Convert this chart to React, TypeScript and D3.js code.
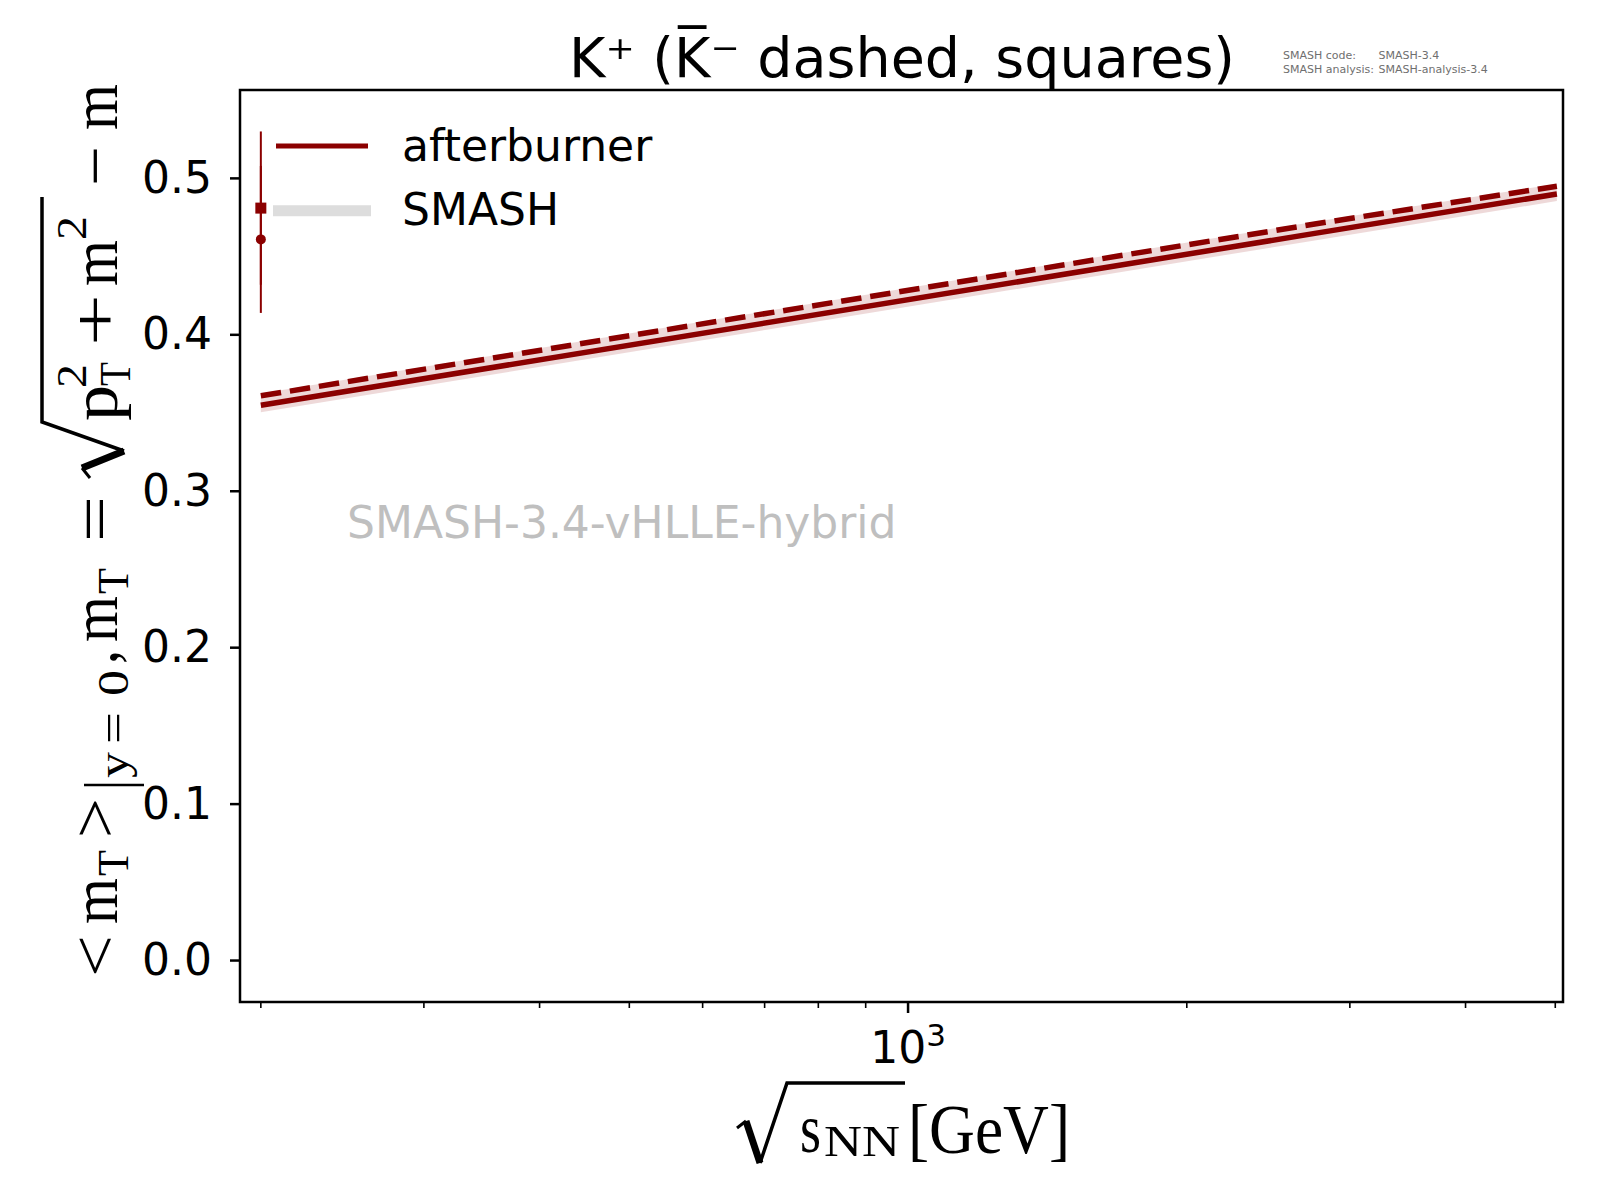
import React from 'react';
import * as d3 from 'd3';

// ---------- data ----------
const energies = [200, 2760, 5020];
const kPlusMT = [0.355, 0.465, 0.49];
const kMinusMT = [0.361, 0.471, 0.495];
const kPlusBandLow = [0.3505, 0.4605, 0.4855];
const kPlusBandHigh = [0.3565, 0.4665, 0.4915];
const kMinusBandLow = [0.3565, 0.4665, 0.4905];
const kMinusBandHigh = [0.3625, 0.4725, 0.4965];

const expEnergies = [200];
const expKPlus = [0.461];
const expKPlusErr = [0.047];
const expKMinus = [0.481];
const expKMinusErr = [0.049];

const yTicks = [0, 0.1, 0.2, 0.3, 0.4, 0.5];
const xMajorTicks = [1000];
const xMinorTicks = [200, 300, 400, 500, 600, 700, 800, 900, 2000, 3000, 4000, 5000];
const legendLabels = ['afterburner', 'SMASH'];
const titleText = 'K\u207A (K\u0305\u207B dashed, squares)';
const watermarkText = 'SMASH-3.4-vHLLE-hybrid';
const infoKeys = ['SMASH code:', 'SMASH analysis:'];
const infoValues = ['SMASH-3.4', 'SMASH-analysis-3.4'];

// ---------- layout ----------
const W = 1600;
const H = 1200;
const L = 240;
const R = 1563;
const T = 90;
const B = 1002;
const RED = '#8b0000';
const SANS = "'DejaVu Sans', sans-serif";
const SERIF = "'Liberation Serif', 'DejaVu Serif', serif";

const x = d3.scaleLog().domain([189.9, 5097]).range([L, R]);
const y = d3.scaleLinear().domain([-0.0265, 0.5565]).range([B, T]);

const zip = (a: number[], b: number[]) => a.map((v, i) => [v, b[i]] as [number, number]);

const line = d3
  .line<[number, number]>()
  .x((d) => x(d[0]))
  .y((d) => y(d[1]));

const area = d3
  .area<[number, number, number]>()
  .x((d) => x(d[0]))
  .y0((d) => y(d[1]))
  .y1((d) => y(d[2]));

const bandPts = (lo: number[], hi: number[]) =>
  energies.map((e, i) => [e, lo[i], hi[i]] as [number, number, number]);

// y-label pieces (rotated): text, start y (bottom), length, font size, baseline x
const yLabelPieces: [string, number, number, number, number][] = [
  ['<', 977, 42, 66, 117],
  ['m', 924, 46, 66, 117],
  ['T', 876, 26, 44, 128],
  ['>', 838, 40, 66, 117],
  ['|', 790, 10, 66, 130],
  ['y', 778, 26, 44, 128],
  ['=', 744, 32, 44, 128],
  ['0', 696, 26, 44, 128],
  [',', 664, 14, 66, 117],
  ['m', 642, 46, 66, 117],
  ['T', 594, 26, 44, 128],
  ['=', 542, 46, 66, 117],
  ['p', 421, 36, 66, 117],
  ['T', 386, 24, 44, 130],
  ['2', 388, 24, 42, 86],
  ['+', 346, 52, 66, 117],
  ['m', 286, 46, 66, 117],
  ['2', 240, 24, 42, 86],
  ['\u2212', 186, 40, 66, 117],
  ['m', 130, 46, 66, 117],
];

export default function App() {
  return (
    <svg
      width={W}
      height={H}
      viewBox={`0 0 ${W} ${H}`}
      style={{ position: 'absolute', left: 0, top: 0, display: 'block', background: '#fff' }}
    >
      <rect x={0} y={0} width={W} height={H} fill="#fff" />

      {/* title */}
      <text x={902} y={77} textAnchor="middle" fontFamily={SANS} fontSize={55.5} fill="#000">
        {titleText}
      </text>

      {/* info text */}
      {infoKeys.map((k, i) => (
        <text key={k} y={59.3 + i * 13.4} fontFamily={SANS} fontSize={11} fill="#6f6f6f">
          <tspan x={1283}>{k}</tspan>
          <tspan x={1378.5}>{infoValues[i]}</tspan>
        </text>
      ))}

      {/* watermark */}
      <text x={347} y={538} fontFamily={SANS} fontSize={44} fill="#bfbfbf">
        {watermarkText}
      </text>

      {/* bands */}
      <path d={area(bandPts(kPlusBandLow, kPlusBandHigh)) || ''} fill={RED} fillOpacity={0.15} />
      <path d={area(bandPts(kMinusBandLow, kMinusBandHigh)) || ''} fill={RED} fillOpacity={0.15} />

      {/* lines */}
      <path d={line(zip(energies, kPlusMT)) || ''} fill="none" stroke={RED} strokeWidth={5.5} />
      <path
        d={line(zip(energies, kMinusMT)) || ''}
        fill="none"
        stroke={RED}
        strokeWidth={5.5}
        strokeDasharray="20.5 8.9"
      />

      {/* experimental points */}
      {expEnergies.map((e, i) => (
        <g key={'exp' + i}>
          <line
            x1={x(e)}
            x2={x(e)}
            y1={y(expKPlus[i] - expKPlusErr[i])}
            y2={y(expKPlus[i] + expKPlusErr[i])}
            stroke={RED}
            strokeWidth={2}
          />
          <line
            x1={x(e)}
            x2={x(e)}
            y1={y(expKMinus[i] - expKMinusErr[i])}
            y2={y(expKMinus[i] + expKMinusErr[i])}
            stroke={RED}
            strokeWidth={2}
          />
          <circle cx={x(e)} cy={y(expKPlus[i])} r={5} fill={RED} />
          <rect x={x(e) - 5.5} y={y(expKMinus[i]) - 5.5} width={11} height={11} fill={RED} />
        </g>
      ))}

      {/* legend */}
      <line x1={276} x2={368} y1={146} y2={146} stroke={RED} strokeWidth={5} />
      <line x1={273} x2={371} y1={210.7} y2={210.7} stroke="#dddddd" strokeWidth={11} />
      <text x={402} y={160.7} fontFamily={SANS} fontSize={44} fill="#000">
        {legendLabels[0]}
      </text>
      <text x={402} y={225} fontFamily={SANS} fontSize={44} fill="#000">
        {legendLabels[1]}
      </text>

      {/* axes frame */}
      <rect x={L} y={T} width={R - L} height={B - T} fill="none" stroke="#000" strokeWidth={2.5} />

      {/* y ticks */}
      {yTicks.map((t) => (
        <g key={'y' + t}>
          <line x1={L - 10} x2={L} y1={y(t)} y2={y(t)} stroke="#000" strokeWidth={2.5} />
          <text x={212} y={y(t) + 14.5} textAnchor="end" fontFamily={SANS} fontSize={44} fill="#000">
            {t.toFixed(1)}
          </text>
        </g>
      ))}

      {/* x ticks */}
      {xMinorTicks.map((t) => (
        <line key={'xm' + t} x1={x(t)} x2={x(t)} y1={B} y2={B + 6} stroke="#000" strokeWidth={1.6} />
      ))}
      {xMajorTicks.map((t) => (
        <g key={'xM' + t}>
          <line x1={x(t)} x2={x(t)} y1={B} y2={B + 11} stroke="#000" strokeWidth={2.5} />
          <text x={x(t)} y={1063} textAnchor="middle" fontFamily={SANS} fontSize={44} fill="#000">
            <tspan>10</tspan>
            <tspan dy={-17} fontSize={31}>
              {String(Math.round(Math.log10(t)))}
            </tspan>
          </text>
        </g>
      ))}

      {/* x label: sqrt(s_NN) [GeV] */}
      <path d="M737,1128 L746,1121" fill="none" stroke="#000" strokeWidth={3} />
      <path d="M746,1121 L760,1163" fill="none" stroke="#000" strokeWidth={7} />
      <path d="M760,1163 L787,1083 L905,1083" fill="none" stroke="#000" strokeWidth={3.5} />
      <text x={800} y={1152} fontFamily={SERIF} fontSize={70} textLength={21} lengthAdjust="spacingAndGlyphs">
        s
      </text>
      <text x={824} y={1156} fontFamily={SERIF} fontSize={44} textLength={76} lengthAdjust="spacingAndGlyphs">
        NN
      </text>
      <text x={908} y={1153} fontFamily={SERIF} fontSize={70} textLength={162} lengthAdjust="spacingAndGlyphs">
        [GeV]
      </text>

      {/* y label */}
      {yLabelPieces.map(([t, s, len, fs, bx], i) => (
        <text
          key={'yl' + i}
          transform={`translate(${bx},${s}) rotate(-90)`}
          x={0}
          y={0}
          fontFamily={SERIF}
          fontSize={fs}
          textLength={len}
          lengthAdjust="spacingAndGlyphs"
          fill="#000"
        >
          {t}
        </text>
      ))}
      <path d="M90,478 L82,468" fill="none" stroke="#000" strokeWidth={3} />
      <path d="M82,468 L124,451" fill="none" stroke="#000" strokeWidth={7} />
      <path d="M124,451 L42,422 L42,197" fill="none" stroke="#000" strokeWidth={3.5} />
    </svg>
  );
}
